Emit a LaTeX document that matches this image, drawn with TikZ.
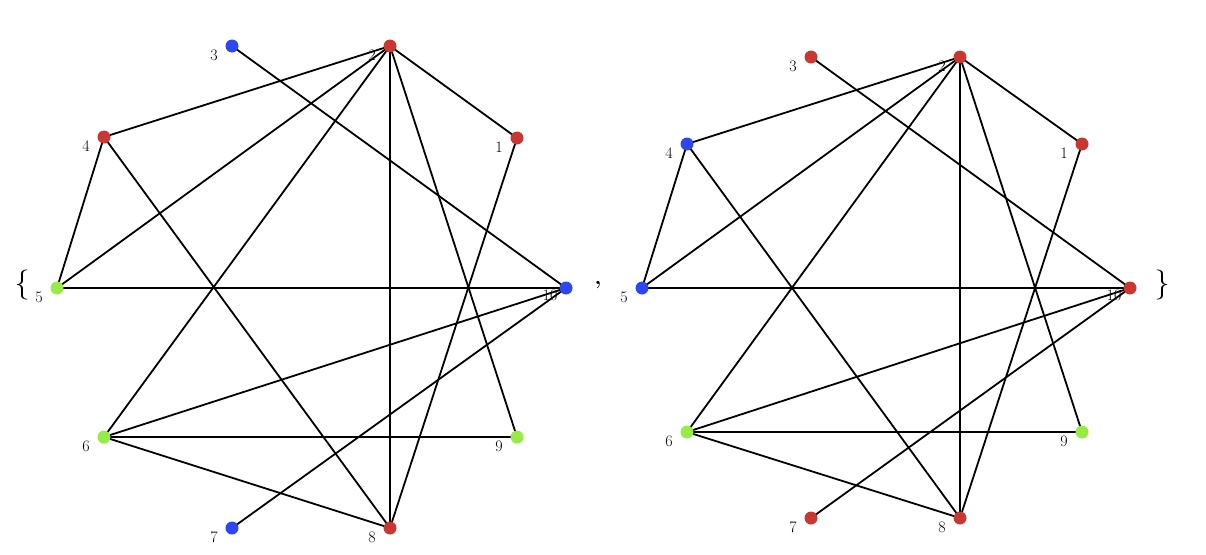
\documentclass[tikz,border=0pt]{standalone}
\usetikzlibrary{calc}
\begin{document}
\begin{tikzpicture}[x=1pt,y=-1pt,
  vx/.style={circle,inner sep=0pt,minimum size=13pt},
  lbl/.style={font=\fontsize{16}{16}\selectfont,anchor=center},
  ed/.style={line width=1.8pt,black}]
\useasboundingbox (0,0) rectangle (1206,554);
\definecolor{vr}{RGB}{200,55,50}
\definecolor{vb}{RGB}{45,70,240}
\definecolor{vg}{RGB}{150,235,70}
\coordinate (L1) at (517,138); \coordinate (L2) at (390,46); \coordinate (L3) at (232,46);
\coordinate (L4) at (104,137); \coordinate (L5) at (57,288); \coordinate (L6) at (104,437);
\coordinate (L7) at (232,528); \coordinate (L8) at (390,528); \coordinate (L9) at (517,437);
\coordinate (L10) at (566,288);
\coordinate (R1) at (1082,144); \coordinate (R2) at (960,57); \coordinate (R3) at (811,57);
\coordinate (R4) at (687,144); \coordinate (R5) at (642,288); \coordinate (R6) at (687,432);
\coordinate (R7) at (811,518); \coordinate (R8) at (960,518); \coordinate (R9) at (1082,432);
\coordinate (R10) at (1130,288);
\foreach \g in {L,R}{
  \foreach \a/\b in {3/10,2/4,2/5,2/6,2/8,2/9,2/1,4/5,4/8,5/10,1/8,6/10,6/9,6/8,7/10}
    \draw[ed] (\g\a) -- (\g\b);
}
\foreach \n/\c in {1/vr,2/vr,3/vb,4/vr,5/vg,6/vg,7/vb,8/vr,9/vg,10/vb}
  \node[vx,fill=\c] (l\n) at (L\n) {};
\foreach \n/\c in {1/vr,2/vr,3/vr,4/vb,5/vb,6/vg,7/vr,8/vr,9/vg,10/vr}
  \node[vx,fill=\c] (r\n) at (R\n) {};
\foreach \g in {L,R}{
  \foreach \n in {1,...,9}
    \node[lbl] at ($(\g\n)+(-18,9)$) {\n};
  \node[lbl] at ($(\g10)+(-16,7)$) {10};
}
\node[lbl,font=\fontsize{30}{30}\selectfont] (ob) at (22,285) {\{};
\node[lbl,font=\fontsize{30}{30}\selectfont] (cb) at (1162,285) {\}};
\node[lbl,font=\fontsize{22}{22}\selectfont\bfseries] (cm) at (598,285) {,};
\end{tikzpicture}
\end{document}
